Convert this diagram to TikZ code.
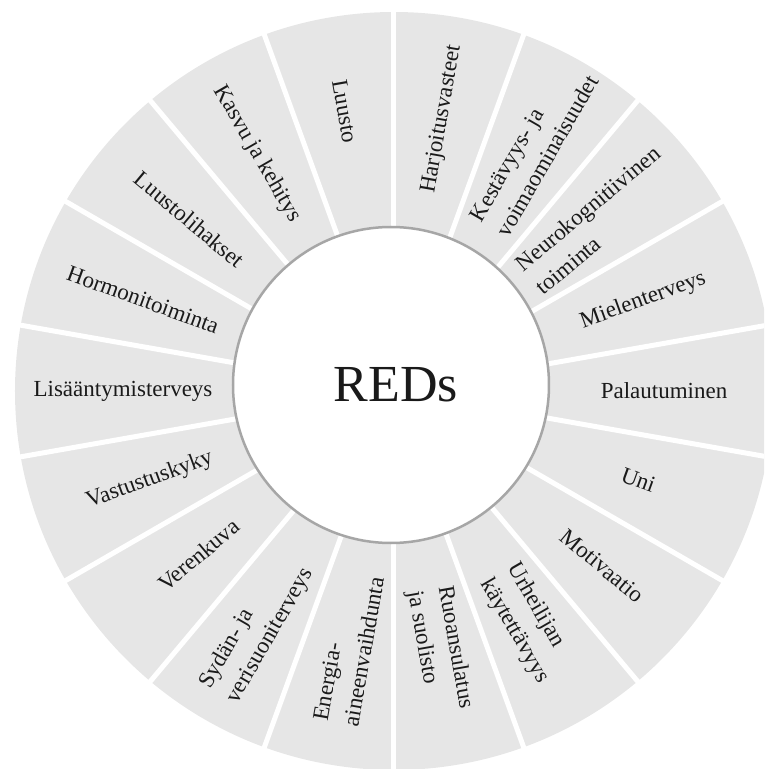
\documentclass[tikz,border=0pt]{standalone}
\usepackage{fontspec}
\setmainfont{Liberation Serif}
\definecolor{segfill}{HTML}{E6E6E6}
\definecolor{rimgray}{HTML}{A6A6A6}
\definecolor{labeltext}{HTML}{1A1A1A}
\begin{document}
\begin{tikzpicture}[x=1pt,y=1pt,
  seglabel/.style={font=\fontsize{23}{31}\selectfont, text=labeltext, align=left, inner sep=0pt},
  divider/.style={white, line width=5pt},
  hub/.style={circle, fill=white, draw=rimgray, line width=2.5pt, minimum size=316pt, inner sep=0pt},
  hubtitle/.style={font=\fontsize{52}{52}\selectfont, text=labeltext, inner sep=0pt}]
\useasboundingbox (-394,-378) rectangle (370,391);
\clip (-394,-378) rectangle (370,391);
% ring of 18 segments
\fill[segfill] (0,0) circle[radius=379pt];
\foreach \a in {10,30,...,350} \draw[divider] (0,0) -- (\a:395);
% central hub
\node[hub] (hub) at (-3,6) {};
\node[hubtitle] (reds) at (2,6) {REDs};
% segment labels, right half reads outward, left half reads inward
\node[seglabel, rotate=80]  (harj)  at (80:276)  {Harjoitusvasteet};
\node[seglabel, rotate=60]  (kest)  at (60:280)  {Kestävyys- ja\\voimaominaisuudet};
\node[seglabel, rotate=40]  (neuro) at (40:266)  {Neurokognitiivinen\\toiminta};
\node[seglabel, rotate=20]  (miel)  at (20:265)  {Mielenterveys};
\node[seglabel, rotate=0]   (pal)   at (0:270)   {Palautuminen};
\node[seglabel, rotate=-20] (uni)   at (-20:260) {Uni};
\node[seglabel, rotate=-40] (motiv) at (-40:272) {Motivaatio};
\node[seglabel, rotate=-60] (urh)   at (-60:268) {Urheilijan\\käytettävyys};
\node[seglabel, rotate=-80] (ruoan) at (-80:263) {Ruoansulatus\\ja suolisto};
\node[seglabel, rotate=80]  (energ) at (260:262) {Energia-\\aineenvaihdunta};
\node[seglabel, rotate=60]  (syd)   at (240:274) {Sydän- ja\\verisuoniterveys};
\node[seglabel, rotate=40]  (veren) at (220:255) {Verenkuva};
\node[seglabel, rotate=20]  (vast)  at (200:260) {Vastustuskyky};
\node[seglabel, rotate=0]   (lisa)  at (180:271) {Lisääntymisterveys};
\node[seglabel, rotate=-20] (horm)  at (160:267) {Hormonitoiminta};
\node[seglabel, rotate=-40] (lihas) at (140:267) {Luustolihakset};
\node[seglabel, rotate=-60] (kasvu) at (120:274) {Kasvu ja kehitys};
\node[seglabel, rotate=-80] (luusto) at (100:284) {Luusto};
\end{tikzpicture}
\end{document}
